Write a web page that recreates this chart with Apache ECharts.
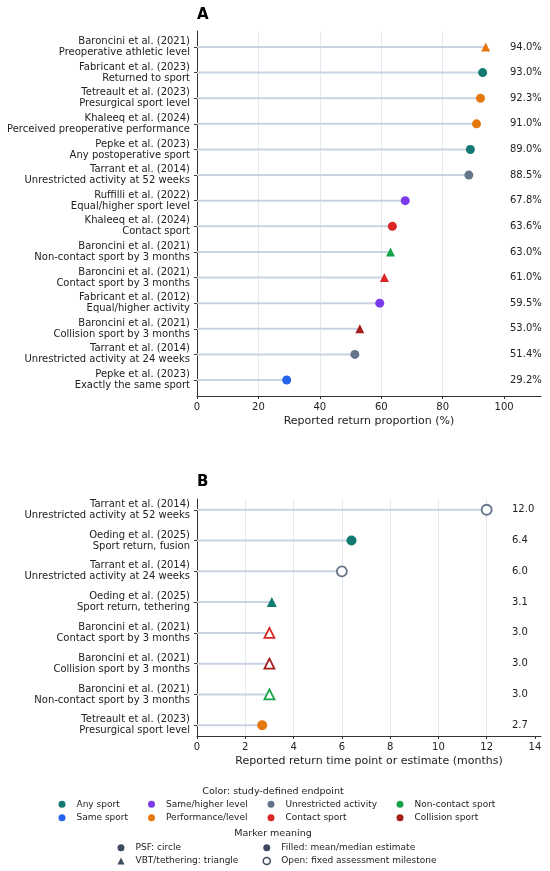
<!DOCTYPE html>
<html><head><meta charset="utf-8">
<script src="https://cdn.jsdelivr.net/npm/echarts@6/dist/echarts.min.js"></script>
<style>html,body{margin:0;padding:0;background:#fff}#c{width:550px;height:871px}</style>
</head><body><div id="c"></div>
<script>
// ---------- Panel A data ----------
const studiesA = [
  'Baroncini et al. (2021)\nPreoperative athletic level',
  'Fabricant et al. (2023)\nReturned to sport',
  'Tetreault et al. (2023)\nPresurgical sport level',
  'Khaleeq et al. (2024)\nPerceived preoperative performance',
  'Pepke et al. (2023)\nAny postoperative sport',
  'Tarrant et al. (2014)\nUnrestricted activity at 52 weeks',
  'Ruffilli et al. (2022)\nEqual/higher sport level',
  'Khaleeq et al. (2024)\nContact sport',
  'Baroncini et al. (2021)\nNon-contact sport by 3 months',
  'Baroncini et al. (2021)\nContact sport by 3 months',
  'Fabricant et al. (2012)\nEqual/higher activity',
  'Baroncini et al. (2021)\nCollision sport by 3 months',
  'Tarrant et al. (2014)\nUnrestricted activity at 24 weeks',
  'Pepke et al. (2023)\nExactly the same sport'
];
const valuesA = [94.0, 93.0, 92.3, 91.0, 89.0, 88.5, 67.8, 63.6, 63.0, 61.0, 59.5, 53.0, 51.4, 29.2];
const endpointsA = ['Performance/level','Any sport','Performance/level','Performance/level','Any sport',
  'Unrestricted activity','Same/higher level','Contact sport','Non-contact sport','Contact sport',
  'Same/higher level','Collision sport','Unrestricted activity','Same sport'];
const markersA = ['triangle','circle','circle','circle','circle','circle','circle','circle','triangle','triangle','circle','triangle','circle','circle'];
const ticksA = [0, 20, 40, 60, 80, 100];

// ---------- Panel B data ----------
const studiesB = [
  'Tarrant et al. (2014)\nUnrestricted activity at 52 weeks',
  'Oeding et al. (2025)\nSport return, fusion',
  'Tarrant et al. (2014)\nUnrestricted activity at 24 weeks',
  'Oeding et al. (2025)\nSport return, tethering',
  'Baroncini et al. (2021)\nContact sport by 3 months',
  'Baroncini et al. (2021)\nCollision sport by 3 months',
  'Baroncini et al. (2021)\nNon-contact sport by 3 months',
  'Tetreault et al. (2023)\nPresurgical sport level'
];
const valuesB = [12.0, 6.4, 6.0, 3.1, 3.0, 3.0, 3.0, 2.7];
const endpointsB = ['Unrestricted activity','Any sport','Unrestricted activity','Any sport','Contact sport','Collision sport','Non-contact sport','Performance/level'];
const markersB = ['circle','circle','circle','triangle','triangle','triangle','triangle','circle'];
const fillsB = ['open','filled','open','filled','open','open','open','filled'];
const ticksB = [0, 2, 4, 6, 8, 10, 12, 14];

// ---------- Legend ----------
const endpointNames = ['Any sport','Same sport','Same/higher level','Performance/level','Unrestricted activity','Contact sport','Non-contact sport','Collision sport'];
const markerNames = ['PSF: circle','VBT/tethering: triangle','Filled: mean/median estimate','Open: fixed assessment milestone'];

// ---------- Styles ----------
const palette = {
  'Any sport':'#127a72', 'Same sport':'#2563eb', 'Same/higher level':'#7c3aed', 'Performance/level':'#e5780c',
  'Unrestricted activity':'#64748b', 'Contact sport':'#dc2626', 'Non-contact sport':'#16a34a', 'Collision sport':'#a51d1d'
};
const FONT = 'DejaVu Sans';
const TXT = '#222';
const DARK = '#3e4a5e';
const STEM = '#c9d3e2';
const GRIDC = '#e4e8f0';

const idxA = studiesA.map((_, i) => i);
const idxB = studiesB.map((_, i) => i);

function stemRender(params, api) {
  const y = api.value(1), v = api.value(0);
  const p0 = api.coord([0, y]), p1 = api.coord([v, y]);
  return { type: 'line', shape: { x1: p0[0], y1: p0[1], x2: p1[0], y2: p1[1] },
    style: { stroke: STEM, lineWidth: 2 } };
}

function xAxisCfg(grid, max, interval, ticks, name) {
  return {
    type: 'value', gridIndex: grid, min: 0, max: max, interval: interval,
    name: name, nameLocation: 'middle', nameGap: 20,
    nameTextStyle: { fontFamily: FONT, fontSize: 11, color: TXT },
    axisLine: { show: true, onZero: false, lineStyle: { color: '#333', width: 1 } },
    axisTick: { show: true, length: 3, lineStyle: { color: '#333' }, customValues: ticks },
    axisLabel: { fontFamily: FONT, fontSize: 10, color: TXT, margin: 6, customValues: ticks },
    splitLine: { show: true, showMinLine: false, showMaxLine: false, lineStyle: { color: GRIDC, width: 1 } }
  };
}
function yAxisCfg(grid, min, max, idx, labels) {
  return {
    type: 'value', gridIndex: grid, min: min, max: max, inverse: true,
    axisLine: { show: true, onZero: false, lineStyle: { color: '#333', width: 1 } },
    axisTick: { show: true, length: 3, lineStyle: { color: '#333' }, customValues: idx },
    axisLabel: { fontFamily: FONT, fontSize: 10, color: TXT, margin: 7, lineHeight: 11, align: 'right',
      customValues: idx, formatter: v => labels[Math.round(v)] },
    splitLine: { show: false }
  };
}
function yRightCfg(grid, min, max, idx, texts, margin) {
  return {
    type: 'value', gridIndex: grid, min: min, max: max, inverse: true, position: 'right',
    axisLine: { show: false, onZero: false }, axisTick: { show: false }, splitLine: { show: false },
    axisLabel: { inside: true, margin: margin, align: 'left', fontFamily: FONT, fontSize: 10, color: TXT,
      customValues: idx, formatter: v => texts[Math.round(v)] }
  };
}

const ptsA = valuesA.map((v, i) => ({
  value: [v, i], symbol: markersA[i], symbolSize: 9,
  itemStyle: { color: palette[endpointsA[i]], opacity: 1 }
}));
const ptsB = valuesB.map((v, i) => {
  const c = palette[endpointsB[i]];
  const open = fillsB[i] === 'open';
  return {
    value: [v, i], symbol: markersB[i], symbolSize: 10,
    itemStyle: open ? { color: '#fff', borderColor: c, borderWidth: 1.8, opacity: 1 } : { color: c, opacity: 1 }
  };
});

const dummy = endpointNames.map(n => ({ type: 'scatter', name: n, data: [], xAxisIndex: 0, yAxisIndex: 0,
  itemStyle: { color: palette[n], opacity: 1 } }))
  .concat(markerNames.map((n, k) => ({ type: 'scatter', name: n, data: [], xAxisIndex: 0, yAxisIndex: 0,
    symbol: k === 1 ? 'triangle' : 'circle',
    itemStyle: k === 3 ? { color: '#fff', borderColor: DARK, borderWidth: 1.5, opacity: 1 } : { color: DARK, opacity: 1 } })));

function legendCol(names, left, top, extra) {
  return {
    orient: 'vertical', left: left, top: top, padding: 0, itemWidth: 7, itemHeight: 7, itemGap: 2.4,
    selectedMode: false,
    textStyle: { fontFamily: FONT, fontSize: 9, color: TXT, lineHeight: 11, padding: [0, 0, 0, 6] },
    data: names.map(n => Object.assign({ name: n, icon: 'circle', itemStyle: { opacity: 1 } }, extra ? extra(n) : {}))
  };
}
const markerExtra = n => {
  const k = markerNames.indexOf(n);
  if (k === 1) return { icon: 'triangle' };
  if (k === 3) return { itemStyle: { color: '#fff', borderColor: DARK, borderWidth: 1.5, opacity: 1 } };
  return {};
};

const option = {
  animation: false,
  backgroundColor: '#fff',
  title: [
    { text: 'A', left: 197, top: 8, padding: 0, textStyle: { fontFamily: FONT, fontSize: 15, fontWeight: 'bold', color: '#000' } },
    { text: 'B', left: 197, top: 475, padding: 0, textStyle: { fontFamily: FONT, fontSize: 15, fontWeight: 'bold', color: '#000' } }
  ],
  grid: [
    { left: 197, right: 9, top: 31, height: 365 },
    { left: 197, right: 9, top: 499, height: 237 }
  ],
  xAxis: [
    xAxisCfg(0, 112, 20, ticksA, 'Reported return proportion (%)'),
    xAxisCfg(1, 14.25, 2, ticksB, 'Reported return time point or estimate (months)')
  ],
  yAxis: [
    yAxisCfg(0, -0.625, 13.625, idxA, studiesA),
    yAxisCfg(1, -0.35, 7.35, idxB, studiesB),
    yRightCfg(0, -0.625, 13.625, idxA, valuesA.map(v => v.toFixed(1) + '%'), 31),
    yRightCfg(1, -0.35, 7.35, idxB, valuesB.map(v => v.toFixed(1)), 29)
  ],
  legend: [
    legendCol(endpointNames.slice(0, 2), 58.5, 798.8),
    legendCol(endpointNames.slice(2, 4), 148, 798.8),
    legendCol(endpointNames.slice(4, 6), 267.5, 798.8),
    legendCol(endpointNames.slice(6, 8), 396.5, 798.8),
    legendCol(markerNames.slice(0, 2), 117.5, 842.2, markerExtra),
    legendCol(markerNames.slice(2, 4), 262.5, 842.2, markerExtra)
  ],
  graphic: [
    { type: 'text', x: 273, y: 792, style: { text: 'Color: study-defined endpoint', align: 'center', verticalAlign: 'middle', fontFamily: FONT, fontSize: 9.5, fill: TXT } },
    { type: 'text', x: 273, y: 834, style: { text: 'Marker meaning', align: 'center', verticalAlign: 'middle', fontFamily: FONT, fontSize: 9.5, fill: TXT } }
  ],
  series: [
    { type: 'custom', name: 'stemsA', xAxisIndex: 0, yAxisIndex: 0, renderItem: stemRender, z: 2,
      data: valuesA.map((v, i) => [v, i]) },
    { type: 'scatter', name: 'pointsA', xAxisIndex: 0, yAxisIndex: 0, z: 3, data: ptsA },
    { type: 'custom', name: 'stemsB', xAxisIndex: 1, yAxisIndex: 1, renderItem: stemRender, z: 2,
      data: valuesB.map((v, i) => [v, i]) },
    { type: 'scatter', name: 'pointsB', xAxisIndex: 1, yAxisIndex: 1, z: 3, data: ptsB }
  ].concat(dummy)
};

const chart = echarts.init(document.getElementById('c'), null, { renderer: 'canvas' });
chart.setOption(option);
</script>
</body></html>
